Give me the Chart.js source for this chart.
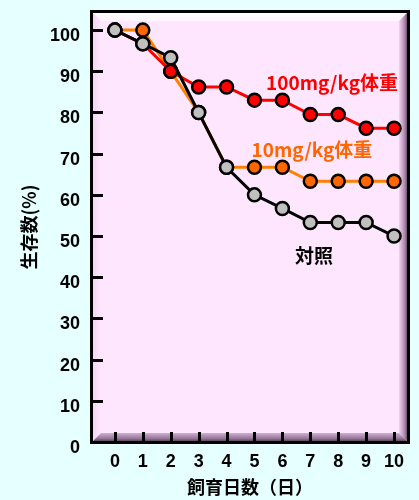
<!DOCTYPE html>
<html><head><meta charset="utf-8">
<script src="https://cdn.jsdelivr.net/npm/chart.js@4.4.1/dist/chart.umd.min.js"></script>
<style>html,body{margin:0;padding:0;background:#e6ffff;}canvas{display:block;}</style>
</head><body>
<canvas id="c" width="419" height="500"></canvas>
<script>
const days = [0,1,2,3,4,5,6,7,8,9,10];
const control = [100,96.7,93.3,80,66.7,60,56.7,53.3,53.3,53.3,50];
const dose10  = [100,100,90,80,66.7,66.7,66.7,63.3,63.3,63.3,63.3];
const dose100 = [100,96.7,90,86.2,86.2,83,83,79.5,79.5,76.2,76.2];
const xTicks = [0,1,2,3,4,5,6,7,8,9,10];
const yTicks = [0,10,20,30,40,50,60,70,80,90,100];
const seriesNames = ['対照','10mg/kg体重','100mg/kg体重'];
const labelPos = [ {x:7.13, y:45.1}, {x:7.06, y:70.9}, {x:7.78, y:87.1} ];
const labelColors = ['#000000','#ff6600','#ff0000'];

const pts = arr => days.map((d,i)=>({x:d,y:arr[i]}));

const framePlugin = {
  id:'frame',
  beforeDraw(chart){
    const {ctx, chartArea:a} = chart;
    const L=a.left, R=a.right, T=a.top, B=a.bottom, s=9;
    ctx.save();
    ctx.fillStyle='#ffe6ff';
    ctx.fillRect(L,T,R-L,B-T);
    let g=ctx.createLinearGradient(0,T,0,T+s);
    g.addColorStop(0,'#ffffff'); g.addColorStop(1,'#fff4ff');
    ctx.fillStyle=g; ctx.beginPath(); ctx.moveTo(L,T); ctx.lineTo(R,T); ctx.lineTo(R-s,T+s); ctx.lineTo(L+s,T+s); ctx.closePath(); ctx.fill();
    g=ctx.createLinearGradient(L,0,L+s,0);
    g.addColorStop(0,'#f4d4f4'); g.addColorStop(1,'#ffe6ff');
    ctx.fillStyle=g; ctx.beginPath(); ctx.moveTo(L,T); ctx.lineTo(L+s,T+s); ctx.lineTo(L+s,B-s); ctx.lineTo(L,B); ctx.closePath(); ctx.fill();
    g=ctx.createLinearGradient(R-s,0,R,0);
    g.addColorStop(0,'#f0d4f0'); g.addColorStop(0.6,'#b08cb0'); g.addColorStop(1,'#5a405a');
    ctx.fillStyle=g; ctx.beginPath(); ctx.moveTo(R,T); ctx.lineTo(R,B); ctx.lineTo(R-s,B-s); ctx.lineTo(R-s,T+s); ctx.closePath(); ctx.fill();
    g=ctx.createLinearGradient(0,B-s,0,B);
    g.addColorStop(0,'#d0b0d0'); g.addColorStop(0.6,'#98789a'); g.addColorStop(1,'#4a344a');
    ctx.fillStyle=g; ctx.beginPath(); ctx.moveTo(L,B); ctx.lineTo(R,B); ctx.lineTo(R-s,B-s); ctx.lineTo(L+s,B-s); ctx.closePath(); ctx.fill();
    ctx.strokeStyle='#000'; ctx.lineWidth=3;
    ctx.strokeRect(L-0.5,T-0.5,R-L+1,B-T+1);
    const xs=chart.scales.x, ys=chart.scales.y;
    ctx.lineWidth=3; ctx.beginPath();
    ys.ticks.forEach(t=>{ if(t.value===0) return; const y=Math.round(ys.getPixelForValue(t.value))+0.5; ctx.moveTo(L,y); ctx.lineTo(L+11,y);});
    xs.ticks.forEach(t=>{ const x=Math.round(xs.getPixelForValue(t.value))+0.5; ctx.moveTo(x,B); ctx.lineTo(x,B-10);});
    ctx.stroke();
    ctx.restore();
  },
  afterDatasetsDraw(chart){
    const {ctx} = chart; const xs=chart.scales.x, ys=chart.scales.y;
    ctx.save();
    ctx.font="bold 19px 'Noto Sans CJK JP'";
    ctx.textAlign='center'; ctx.textBaseline='middle';
    seriesNames.forEach((n,i)=>{
      ctx.fillStyle=labelColors[i];
      ctx.fillText(n, xs.getPixelForValue(labelPos[i].x), ys.getPixelForValue(labelPos[i].y));
    });
    ctx.restore();
  }
};

const tickFont = {family:"'Liberation Sans', Arial, sans-serif", size:18, weight:'bold'};
const titleFont = {family:"'Noto Sans CJK JP'", size:18, weight:'bold'};

new Chart(document.getElementById('c'), {
  type:'line',
  data:{datasets:[
    {label:seriesNames[0], data:pts(control), borderColor:'#000000', backgroundColor:'#c0c0c0', order:0},
    {label:seriesNames[2], data:pts(dose100), borderColor:'#ff0000', backgroundColor:'#ff0000', order:1},
    {label:seriesNames[1], data:pts(dose10), borderColor:'#ff7f00', backgroundColor:'#ff6600', order:2}
  ].map(d=>Object.assign(d,{borderWidth:3, pointRadius:6.5, pointBorderWidth:2.5, pointBorderColor:'#000', pointHoverRadius:6.5, tension:0}))},
  options:{
    responsive:false, animation:false,
    layout:{padding:{top:12,right:11,left:0,bottom:0}},
    plugins:{legend:{display:false}, tooltip:{enabled:false}},
    scales:{
      x:{type:'linear', min:-0.82, max:10.5,
        afterBuildTicks:s=>{s.ticks=xTicks.map(v=>({value:v}));},
        afterFit:s=>{s.height=58; s.paddingLeft=0; s.paddingRight=0;},
        grid:{display:false, drawTicks:false}, border:{display:false},
        ticks:{font:tickFont, color:'#000', padding:9, maxRotation:0, autoSkip:false},
        title:{display:true, text:'飼育日数（日）', font:titleFont, color:'#000', padding:{top:0,bottom:2}}
      },
      y:{type:'linear', min:0, max:104.4,
        afterBuildTicks:s=>{s.ticks=yTicks.map(v=>({value:v}));},
        afterFit:s=>{s.width=92; s.paddingTop=0; s.paddingBottom=0;},
        grid:{display:false, drawTicks:false}, border:{display:false},
        ticks:{font:tickFont, color:'#000', padding:12, labelOffset:6, autoSkip:false},
        title:{display:true, text:'生存数(%)', font:titleFont, color:'#000', padding:{top:18,bottom:0}}
      }
    }
  },
  plugins:[framePlugin]
});
</script>
</body></html>
